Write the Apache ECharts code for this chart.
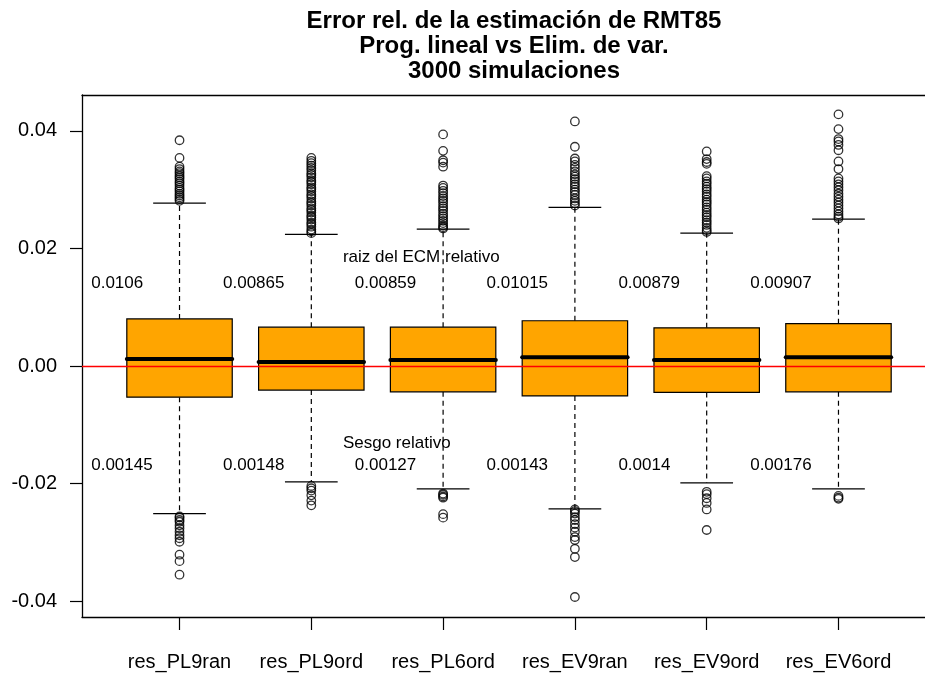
<!DOCTYPE html>
<html>
<head>
<meta charset="utf-8">
<title>Error rel. de la estimación de RMT85</title>
<script src="https://cdn.jsdelivr.net/npm/echarts@6/dist/echarts.min.js"></script>
<style>html,body{margin:0;padding:0;background:#fff}</style>
</head>
<body>
<div id="main" style="width:925px;height:675px;"></div>
<script>
// datos
var categorias = ['res_PL9ran', 'res_PL9ord', 'res_PL6ord', 'res_EV9ran', 'res_EV9ord', 'res_EV6ord'];
var bigoteInf = [-0.0251, -0.0197, -0.0209, -0.0243, -0.0199, -0.0209];
var cuartil1  = [-0.0053, -0.0041, -0.0044, -0.0051, -0.0045, -0.0044];
var mediana   = [0.0012, 0.0007, 0.0010, 0.0015, 0.0010, 0.0015];
var cuartil3  = [0.0080, 0.0066, 0.0066, 0.0077, 0.0065, 0.0072];
var bigoteSup = [0.0277, 0.0224, 0.0233, 0.0270, 0.0226, 0.0250];

// valores atípicos de cada caja
var atipicos = [
    [0.0384, 0.0354, 0.0339, 0.0335, 0.0331, 0.0328, 0.0324, 0.0321, 0.0318, 0.0314, 0.0311, 0.0307, 0.0303, 0.0300, 0.0297, 0.0293, 0.0290, 0.0287, 0.0284, 0.0281,
     -0.0256, -0.0258, -0.0262, -0.0265, -0.0271, -0.0276, -0.0282, -0.0288, -0.0293, -0.0299, -0.0321, -0.0332, -0.0355],
    [0.0354, 0.0349, 0.0345, 0.0341, 0.0337, 0.0333, 0.0328, 0.0325, 0.0321, 0.0316, 0.0313, 0.0309, 0.0304, 0.0301, 0.0297, 0.0292, 0.0289, 0.0285, 0.0280, 0.0277,
     0.0273, 0.0268, 0.0265, 0.0261, 0.0256, 0.0253, 0.0249, 0.0244, 0.0241, 0.0237, 0.0232, 0.0229, 0.0226,
     -0.0204, -0.0208, -0.0212, -0.0220, -0.0229, -0.0237],
    [0.0394, 0.0366, 0.0350, 0.0346, 0.0339, 0.0307, 0.0303, 0.0298, 0.0294, 0.0289, 0.0285, 0.0281, 0.0277, 0.0272, 0.0268, 0.0264, 0.0259, 0.0255, 0.0251, 0.0247,
     0.0243, 0.0239, 0.0236, 0.0234,
     -0.0217, -0.0219, -0.0222, -0.0224, -0.0252, -0.0258],
    [0.0416, 0.0373, 0.0353, 0.0348, 0.0342, 0.0337, 0.0331, 0.0326, 0.0322, 0.0318, 0.0314, 0.0309, 0.0305, 0.0300, 0.0296, 0.0291, 0.0285, 0.0281, 0.0277, 0.0273,
     -0.0244, -0.0247, -0.0251, -0.0257, -0.0262, -0.0269, -0.0275, -0.0282, -0.0291, -0.0296, -0.0311, -0.0325, -0.0393],
    [0.0365, 0.0352, 0.0347, 0.0344, 0.0323, 0.0319, 0.0314, 0.0310, 0.0305, 0.0301, 0.0297, 0.0292, 0.0288, 0.0283, 0.0279, 0.0275, 0.0270, 0.0266, 0.0261, 0.0257,
     0.0253, 0.0248, 0.0244, 0.0240, 0.0235, 0.0231, 0.0228,
     -0.0214, -0.0218, -0.0225, -0.0233, -0.0244, -0.0279],
    [0.0428, 0.0403, 0.0386, 0.0382, 0.0376, 0.0367, 0.0348, 0.0335, 0.0319, 0.0314, 0.0309, 0.0304, 0.0299, 0.0293, 0.0288, 0.0283, 0.0278, 0.0273, 0.0268, 0.0263,
     0.0258, 0.0254, 0.0251,
     -0.0221, -0.0224, -0.0226]
];

// textos anotados
var ecmRel   = ['0.0106', '0.00865', '0.00859', '0.01015', '0.00879', '0.00907'];
var sesgoRel = ['0.00145', '0.00148', '0.00127', '0.00143', '0.0014', '0.00176'];
var ticksY   = [-0.04, -0.02, 0, 0.02, 0.04];
var ticksX   = [1, 2, 3, 4, 5, 6];

var fuente = "'Liberation Sans', Arial, Helvetica, sans-serif";

var myChart = echarts.init(document.getElementById('main'));

var cajas = categorias.map(function (c, i) {
    return [i + 1, bigoteInf[i], cuartil1[i], mediana[i], cuartil3[i], bigoteSup[i]];
});
var puntos = [];
atipicos.forEach(function (lista, i) {
    lista.forEach(function (v) { puntos.push([i + 1, v]); });
});

// caja estilo R: rectángulo naranja, mediana gruesa, bigotes discontinuos
function dibujarCaja(params, api) {
    var x = api.value(0);
    var cx = api.coord([x, 0])[0];
    var ancho = api.size([0.8, 0])[0];
    var yInf = api.coord([x, api.value(1)])[1];
    var yQ1 = api.coord([x, api.value(2)])[1];
    var yMed = api.coord([x, api.value(3)])[1];
    var yQ3 = api.coord([x, api.value(4)])[1];
    var ySup = api.coord([x, api.value(5)])[1];
    var negro = { stroke: '#000', lineWidth: 1.2 };
    var guion = { stroke: '#000', lineWidth: 1.2, lineDash: [5, 4] };
    return {
        type: 'group',
        children: [
            { type: 'line', shape: { x1: cx, y1: yQ3, x2: cx, y2: ySup }, style: guion },
            { type: 'line', shape: { x1: cx, y1: yQ1, x2: cx, y2: yInf }, style: guion },
            { type: 'line', shape: { x1: cx - ancho / 4, y1: ySup, x2: cx + ancho / 4, y2: ySup }, style: negro },
            { type: 'line', shape: { x1: cx - ancho / 4, y1: yInf, x2: cx + ancho / 4, y2: yInf }, style: negro },
            { type: 'rect', shape: { x: cx - ancho / 2, y: yQ3, width: ancho, height: yQ1 - yQ3 },
              style: { fill: '#ffa500', stroke: '#000', lineWidth: 1.2 } },
            { type: 'line', shape: { x1: cx - ancho / 2, y1: yMed, x2: cx + ancho / 2, y2: yMed },
              style: { stroke: '#000', lineWidth: 4, lineCap: 'round' } }
        ]
    };
}

function textoEn(x, y, txt, api) {
    var p = api.coord([x, y]);
    return {
        type: 'text', x: p[0], y: p[1],
        style: { text: txt, fill: '#000', font: '17px ' + fuente, align: 'left', verticalAlign: 'middle' }
    };
}

var lineaMarco = { show: true, onZero: false, lineStyle: { color: '#000', width: 1.3 } };

var option = {
    animation: false,
    title: {
        text: 'Error rel. de la estimación de RMT85\nProg. lineal vs Elim. de var.\n3000 simulaciones',
        left: 509,
        top: 4,
        textAlign: 'center',
        textStyle: { fontFamily: fuente, fontSize: 24, fontWeight: 'bold', color: '#000', lineHeight: 25 }
    },
    grid: {
        left: 82, top: 95, width: 854, height: 522,
        outerBoundsMode: 'none',
        containLabel: false,
        show: false
    },
    xAxis: [
        {
            type: 'value',
            position: 'bottom',
            min: 0.26, max: 6.74,
            splitLine: { show: false },
            axisLine: lineaMarco,
            axisTick: { show: true, customValues: ticksX, length: 13, lineStyle: { color: '#000', width: 1.2 } },
            axisLabel: {
                customValues: ticksX,
                margin: 35,
                color: '#000',
                fontFamily: fuente,
                fontSize: 20,
                formatter: function (v) { return categorias[Math.round(v) - 1] || ''; }
            }
        },
        {
            // línea superior del marco
            type: 'value',
            position: 'top',
            min: 0.26, max: 6.74,
            splitLine: { show: false },
            axisLine: lineaMarco,
            axisTick: { show: false },
            axisLabel: { show: false }
        }
    ],
    yAxis: {
        type: 'value',
        min: -0.0427, max: 0.0461,
        splitLine: { show: false },
        axisLine: lineaMarco,
        axisTick: { show: true, customValues: ticksY, length: 12, lineStyle: { color: '#000', width: 1.2 } },
        axisLabel: {
            customValues: ticksY,
            margin: 25,
            color: '#000',
            fontFamily: fuente,
            fontSize: 20,
            formatter: function (v) { return v.toFixed(2); }
        }
    },
    series: [
        {
            type: 'custom',
            name: 'cajas',
            data: cajas,
            encode: { x: 0, y: [1, 2, 3, 4, 5] },
            renderItem: dibujarCaja,
            silent: true,
            z: 2
        },
        {
            type: 'scatter',
            name: 'atipicos',
            data: puntos,
            symbol: 'circle',
            symbolSize: 8.5,
            itemStyle: { color: 'transparent', borderColor: '#000', borderWidth: 1.3 },
            silent: true,
            z: 3,
            markLine: {
                silent: true,
                symbol: 'none',
                label: { show: false },
                lineStyle: { color: '#ff0000', width: 1.3, type: 'solid' },
                data: [{ yAxis: 0 }]
            }
        },
        {
            type: 'custom',
            name: 'ecm',
            data: ticksX.map(function (x) { return [x]; }),
            renderItem: function (params, api) {
                return textoEn(api.value(0) - 0.67, 0.0140, ecmRel[params.dataIndex], api);
            },
            silent: true,
            z: 4
        },
        {
            type: 'custom',
            name: 'sesgo',
            data: ticksX.map(function (x) { return [x]; }),
            renderItem: function (params, api) {
                return textoEn(api.value(0) - 0.67, -0.0169, sesgoRel[params.dataIndex], api);
            },
            silent: true,
            z: 4
        },
        {
            type: 'custom',
            name: 'rotulos',
            data: [[2.24, 0.01855], [2.24, -0.0131]],
            renderItem: function (params, api) {
                var txt = params.dataIndex === 0 ? 'raiz del ECM relativo' : 'Sesgo relativo';
                return textoEn(api.value(0), api.value(1), txt, api);
            },
            silent: true,
            z: 4
        }
    ]
};

myChart.setOption(option);
</script>
</body>
</html>
